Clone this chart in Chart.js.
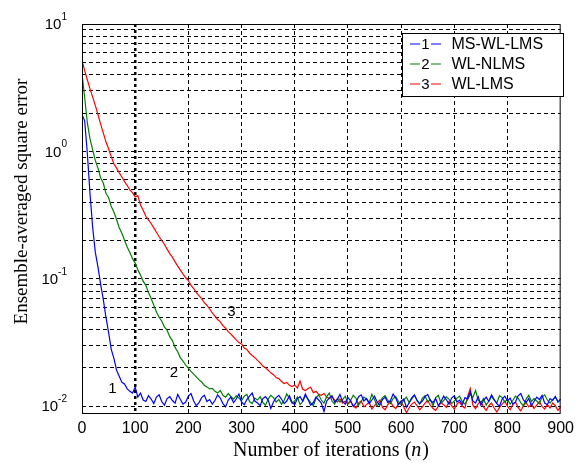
<!DOCTYPE html>
<html>
<head>
<meta charset="utf-8">
<script src="https://cdn.jsdelivr.net/npm/chart.js@4.4.1/dist/chart.umd.min.js"></script>
<style>
	html, body { margin: 0; padding: 0; background: #fff; }
	#wrap { width: 579px; height: 464px; }
</style>
</head>
<body>
<div id="wrap"><canvas id="myChart" width="579" height="464"></canvas></div>
<script>
// sampled every 5 iterations, n = 0 .. 900
var iterStep = 5;

var seriesLabels = ['MS-WL-LMS', 'WL-NLMS', 'WL-LMS'];
var seriesColors = ['#0000ff', '#008000', '#ff0000'];

var msWlLms = [
	1.95, 1.74, 0.97, 0.47, 0.255, 0.162, 0.124, 0.091, 0.069, 0.050,
	0.038, 0.028, 0.0238, 0.0192, 0.0172, 0.0154, 0.0150, 0.0137, 0.0131, 0.0127,
	0.0141, 0.0118, 0.0127, 0.0112, 0.0109, 0.0121, 0.0114, 0.0105, 0.0118, 0.0123,
	0.0109, 0.0102, 0.0115, 0.0119, 0.0111, 0.0106, 0.0124, 0.0113, 0.0104, 0.0108,
	0.0120, 0.0126, 0.0110, 0.0101, 0.0107, 0.0117, 0.0122, 0.0109, 0.0113, 0.0104,
	0.0111, 0.0123, 0.0116, 0.0105, 0.0099, 0.0112, 0.0118, 0.0107, 0.0114, 0.0125,
	0.0108, 0.0103, 0.0113, 0.0120, 0.0127, 0.0110, 0.0106, 0.0101, 0.0115, 0.0119,
	0.0112, 0.0096, 0.0108, 0.0117, 0.0122, 0.0114, 0.0105, 0.0110, 0.0121, 0.0107,
	0.0103, 0.0115, 0.0119, 0.0110, 0.0125, 0.0113, 0.0102, 0.0107, 0.0118, 0.0112,
	0.0106, 0.0091, 0.0110, 0.0116, 0.0121, 0.0108, 0.0113, 0.0124, 0.0109, 0.0104,
	0.0117, 0.0111, 0.0100, 0.0106, 0.0119, 0.0123, 0.0110, 0.0115, 0.0105, 0.0112,
	0.0120, 0.0108, 0.0102, 0.0113, 0.0118, 0.0107, 0.0111, 0.0125, 0.0116, 0.0103,
	0.0109, 0.0114, 0.0098, 0.0106, 0.0117, 0.0122, 0.0112, 0.0105, 0.0110, 0.0119,
	0.0124, 0.0111, 0.0107, 0.0115, 0.0101, 0.0109, 0.0120, 0.0113, 0.0104, 0.0116,
	0.0121, 0.0108, 0.0112, 0.0103, 0.0117, 0.0114, 0.0130, 0.0110, 0.0106, 0.0119,
	0.0102, 0.0111, 0.0118, 0.0109, 0.0123, 0.0113, 0.0105, 0.0100, 0.0114, 0.0120,
	0.0110, 0.0116, 0.0104, 0.0108, 0.0121, 0.0126, 0.0112, 0.0107, 0.0115, 0.0101,
	0.0109, 0.0118, 0.0113, 0.0122, 0.0106, 0.0103, 0.0115, 0.0111, 0.0119, 0.0108,
	0.0114
];

var wlNlms = [
	4.1, 2.65, 1.68, 1.26, 1.03, 0.85, 0.74, 0.62, 0.565, 0.47,
	0.435, 0.37, 0.335, 0.292, 0.252, 0.228, 0.201, 0.178, 0.161, 0.144,
	0.133, 0.118, 0.107, 0.096, 0.089, 0.078, 0.070, 0.062, 0.055, 0.050,
	0.0465, 0.042, 0.0395, 0.0352, 0.0328, 0.0290, 0.0268, 0.0240, 0.0226, 0.0210,
	0.0199, 0.0188, 0.0179, 0.0170, 0.0161, 0.0155, 0.0146, 0.0142, 0.0137, 0.0138,
	0.0131, 0.0127, 0.0133, 0.0122, 0.0118, 0.0126, 0.0119, 0.0114, 0.0121, 0.0116,
	0.0111, 0.0120, 0.0124, 0.0109, 0.0105, 0.0116, 0.0112, 0.0119, 0.0107, 0.0102,
	0.0114, 0.0122, 0.0117, 0.0108, 0.0113, 0.0104, 0.0111, 0.0125, 0.0115, 0.0106,
	0.0110, 0.0118, 0.0103, 0.0109, 0.0121, 0.0114, 0.0107, 0.0101, 0.0116, 0.0123,
	0.0112, 0.0106, 0.0119, 0.0127, 0.0110, 0.0104, 0.0115, 0.0108, 0.0113, 0.0120,
	0.0105, 0.0111, 0.0122, 0.0116, 0.0102, 0.0109, 0.0118, 0.0114, 0.0107, 0.0124,
	0.0113, 0.0100, 0.0108, 0.0117, 0.0121, 0.0111, 0.0105, 0.0115, 0.0119, 0.0109,
	0.0103, 0.0112, 0.0118, 0.0107, 0.0114, 0.0123, 0.0110, 0.0104, 0.0116, 0.0121,
	0.0108, 0.0113, 0.0101, 0.0117, 0.0122, 0.0106, 0.0111, 0.0119, 0.0114, 0.0105,
	0.0110, 0.0116, 0.0120, 0.0109, 0.0104, 0.0113, 0.0124, 0.0118, 0.0133, 0.0111,
	0.0107, 0.0115, 0.0102, 0.0110, 0.0119, 0.0112, 0.0106, 0.0121, 0.0117, 0.0108,
	0.0113, 0.0104, 0.0111, 0.0120, 0.0116, 0.0107, 0.0101, 0.0114, 0.0122, 0.0109,
	0.0115, 0.0110, 0.0105, 0.0118, 0.0123, 0.0112, 0.0106, 0.0113, 0.0119, 0.0108,
	0.0114
];

var wlLms = [
	5.2, 4.3, 3.65, 3.1, 2.68, 2.30, 1.95, 1.64, 1.40, 1.19,
	1.05, 0.91, 0.80, 0.74, 0.68, 0.63, 0.58, 0.54, 0.50, 0.475,
	0.44, 0.45, 0.38, 0.345, 0.31, 0.29, 0.272, 0.251, 0.232, 0.214,
	0.200, 0.186, 0.171, 0.158, 0.148, 0.136, 0.126, 0.117, 0.109, 0.102,
	0.097, 0.089, 0.084, 0.078, 0.074, 0.070, 0.065, 0.062, 0.058, 0.054,
	0.051, 0.048, 0.046, 0.043, 0.041, 0.0385, 0.0368, 0.0350, 0.0332, 0.0316,
	0.0309, 0.0287, 0.0279, 0.0262, 0.0250, 0.0241, 0.0229, 0.0219, 0.0207, 0.0201,
	0.0192, 0.0183, 0.0177, 0.0168, 0.0165, 0.0157, 0.0151, 0.0154, 0.0146, 0.0143,
	0.0147, 0.0139, 0.0158, 0.0136, 0.0133, 0.0138, 0.0141, 0.0128, 0.0131, 0.0124,
	0.0122, 0.0126, 0.0118, 0.0115, 0.0119, 0.0112, 0.0108, 0.0114, 0.0106, 0.0110,
	0.0104, 0.0109, 0.0101, 0.0097, 0.0106, 0.0110, 0.0099, 0.0103, 0.0108, 0.0095,
	0.0101, 0.0107, 0.0112, 0.0098, 0.0094, 0.0103, 0.0109, 0.0100, 0.0096, 0.0105,
	0.0110, 0.0099, 0.0089, 0.0097, 0.0104, 0.0108, 0.0101, 0.0094, 0.0099, 0.0106,
	0.0111, 0.0102, 0.0096, 0.0093, 0.0100, 0.0107, 0.0103, 0.0098, 0.0109, 0.0101,
	0.0095, 0.0104, 0.0108, 0.0100, 0.0097, 0.0119, 0.0138, 0.0102, 0.0096, 0.0105,
	0.0109, 0.0099, 0.0093, 0.0101, 0.0106, 0.0097, 0.0090, 0.0098, 0.0104, 0.0110,
	0.0100, 0.0094, 0.0103, 0.0108, 0.0098, 0.0092, 0.0101, 0.0107, 0.0099, 0.0104,
	0.0096, 0.0102, 0.0109, 0.0100, 0.0095, 0.0103, 0.0097, 0.0106, 0.0101, 0.0093,
	0.0099
];

// axis ticks
var xTickValues = [0, 100, 200, 300, 400, 500, 600, 700, 800, 900];
var yTickValues = [0.01, 0.1, 1, 10];
var yTickExps = ['-2', '-1', '0', '1'];
var yGridMantissas = [1, 2, 3, 4, 5, 6, 7, 8, 9];

// curve numbers written inside the plot (n, value)
var curveTags = ['1', '2', '3'];
var curveTagN = [57, 173, 281];
var curveTagV = [0.0137, 0.0184, 0.055];

var seriesValues = [msWlLms, wlNlms, wlLms];

function toPoints(values) {
	return values.map(function (v, i) { return { x: i * iterStep, y: v }; });
}

var yGridValues = [];
yTickValues.slice(0, 3).forEach(function (d) {
	yGridMantissas.forEach(function (m) { yGridValues.push(m * d); });
});
yGridValues.push(10);

var decorPlugin = {
	id: 'decor',
	afterDraw: function (chart) {
		var ctx = chart.ctx;
		var area = chart.chartArea;
		var xs = chart.scales.x, ys = chart.scales.y;
		ctx.save();

		// axes box
		ctx.setLineDash([]);
		ctx.strokeStyle = '#000';
		ctx.lineWidth = 1;
		ctx.strokeRect(area.left + 0.5, area.top + 0.5, area.right - area.left - 1, area.bottom - area.top - 1);

		// y tick labels 10^k
		ctx.fillStyle = '#000';
		ctx.textAlign = 'right';
		ctx.textBaseline = 'middle';
		yTickValues.forEach(function (v, i) {
			var y = ys.getPixelForValue(v);
			ctx.font = '10px "Liberation Sans"';
			var ew = ctx.measureText(yTickExps[i]).width;
			ctx.fillText(yTickExps[i], 67, y - 7);
			ctx.font = '15px "Liberation Sans"';
			ctx.fillText('10', 67 - ew, y + 1);
		});

		// curve numbers
		ctx.textAlign = 'center';
		ctx.font = '15px "Liberation Sans"';
		curveTags.forEach(function (t, i) {
			ctx.fillText(t, xs.getPixelForValue(curveTagN[i]), ys.getPixelForValue(curveTagV[i]));
		});

		// axis titles
		ctx.font = '19px "Liberation Serif"';
		ctx.save();
		ctx.translate(22.5, 201.5);
		ctx.rotate(-Math.PI / 2);
		ctx.fillText('Ensemble-averaged square error', 0, 0);
		ctx.restore();

		var p1 = 'Number of iterations (', p2 = 'n', p3 = ')';
		ctx.textAlign = 'left';
		ctx.textBaseline = 'alphabetic';
		ctx.font = '20px "Liberation Serif"';
		var w1 = ctx.measureText(p1).width, w3 = ctx.measureText(p3).width;
		ctx.font = 'italic 20px "Liberation Serif"';
		var w2 = ctx.measureText(p2).width;
		var tx = 330.5 - (w1 + w2 + w3) / 2;
		ctx.font = '20px "Liberation Serif"';
		ctx.fillText(p1, tx, 456);
		ctx.font = 'italic 20px "Liberation Serif"';
		ctx.fillText(p2, tx + w1, 456);
		ctx.font = '20px "Liberation Serif"';
		ctx.fillText(p3, tx + w1 + w2 + 1, 456);

		// legend
		var lx = 402.5, ly = 33.5, lw = 161, lh = 63;
		ctx.fillStyle = '#fff';
		ctx.fillRect(lx, ly, lw, lh);
		ctx.strokeStyle = '#000';
		ctx.strokeRect(lx, ly, lw, lh);
		chart.data.datasets.forEach(function (ds, i) {
			var cy = 44 + i * 20;
			ctx.strokeStyle = ds.borderColor;
			ctx.lineWidth = 1.2;
			ctx.beginPath();
			ctx.moveTo(410, cy); ctx.lineTo(420, cy);
			ctx.moveTo(431, cy); ctx.lineTo(441, cy);
			ctx.stroke();
			ctx.fillStyle = '#000';
			ctx.textBaseline = 'middle';
			ctx.textAlign = 'center';
			ctx.font = '15px "Liberation Sans"';
			ctx.fillText(String(i + 1), 425.5, cy + 1);
			ctx.textAlign = 'left';
			ctx.font = '16px "Liberation Sans"';
			ctx.fillText(ds.label, 451.5, cy + 1);
		});
		ctx.restore();
	}
};

var ctx = document.getElementById('myChart').getContext('2d');
var myChart = new Chart(ctx, {
	type: 'line',
	data: {
		datasets: seriesValues.map(function (vals, i) {
			return {
				label: seriesLabels[i],
				data: toPoints(vals),
				borderColor: seriesColors[i],
				backgroundColor: seriesColors[i],
				borderWidth: 1.2,
				pointRadius: 0,
				tension: 0,
				fill: false
			};
		})
	},
	options: {
		responsive: false,
		animation: false,
		devicePixelRatio: 1,
		layout: { padding: { top: 24, right: 12, bottom: 0, left: 0 } },
		plugins: {
			legend: { display: false },
			tooltip: { enabled: false }
		},
		scales: {
			x: {
				type: 'linear',
				min: 0,
				max: 900,
				afterBuildTicks: function (scale) {
					scale.ticks = xTickValues.map(function (v) { return { value: v }; });
				},
				afterFit: function (scale) { scale.height = 50; },
				ticks: {
					autoSkip: false,
					maxRotation: 0,
					padding: 5,
					color: '#000',
					font: { family: 'Liberation Sans', size: 16 }
				},
				grid: {
					drawTicks: false,
					color: function (c) {
						if (!c.tick || c.tick.value === 0 || c.tick.value === 900) return 'rgba(0,0,0,0)';
						return '#000';
					},
					lineWidth: function (c) {
						return c.tick && c.tick.value === 100 ? 2.5 : 1;
					}
				},
				border: {
					display: false,
					dash: function (c) {
						return c.tick && c.tick.value === 100 ? [3, 3] : [4, 3];
					}
				}
			},
			y: {
				type: 'logarithmic',
				min: 0.0087,
				max: 10,
				afterBuildTicks: function (scale) {
					scale.ticks = yGridValues.map(function (v) { return { value: v }; });
				},
				afterFit: function (scale) { scale.width = 82; },
				ticks: { display: false },
				grid: {
					drawTicks: false,
					color: function (c) {
						if (!c.tick || c.tick.value >= 10) return 'rgba(0,0,0,0)';
						return '#000';
					},
					lineWidth: 1
				},
				border: { display: false, dash: [4, 3] }
			}
		}
	},
	plugins: [decorPlugin]
});
</script>
</body>
</html>
